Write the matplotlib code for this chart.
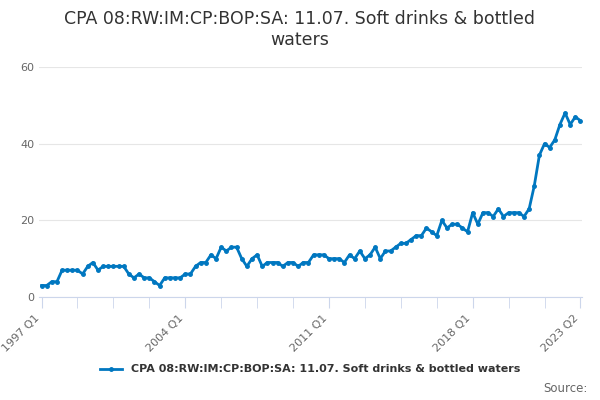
import matplotlib
matplotlib.use("Agg")
import matplotlib.pyplot as plt

values = [3,3,4,4, 7,7,7,7, 6,8,9,7, 8,8,8,8, 8,6,5,6, 5,5,4,3, 5,5,5,5,
          6,6,8,9, 9,11,10,13, 12,13,13,10, 8,10,11,8, 9,9,9,8, 9,9,8,9,
          9,11,11,11, 10,10,10,9, 11,10,12,10, 11,13,10,12, 12,13,14,14,
          15,16,16,18, 17,16,20,18, 19,19,18,17,
          22,19,22,22,21,23,21,22,22,22, 21,23,29,37,40,39,41,45,48,45,47,46]
labels = [f"{1997 + i//4} Q{i%4+1}" for i in range(len(values))]
label_pos = [0, 28, 56, 84, len(values)-1]

fig, ax = plt.subplots(figsize=(6, 4), dpi=100)
fig.subplots_adjust(left=0.065, right=0.97, top=0.8325, bottom=0.2575)
x = list(range(len(values)))
ax.plot(x, values, color="#0077c0", lw=2, marker="o", ms=2.5,
        label="CPA 08:RW:IM:CP:BOP:SA: 11.07. Soft drinks & bottled waters")
ax.set_ylim(0, 60)
ax.set_yticks([0, 20, 40, 60])
ax.set_xlim(-0.5, len(values)-0.7)
ax.grid(axis="y", color="#e6e6e6")
ax.set_axisbelow(True)
for s in ["top", "right", "left"]:
    ax.spines[s].set_visible(False)
ax.spines["bottom"].set_color("#ccd6eb")
ax.tick_params(axis="y", length=0, labelsize=8, colors="#666666")
ax.set_xticks(list(range(0, len(values), 7)) + [len(values)-1], minor=True)
ax.set_xticks(label_pos)
ax.set_xticklabels([labels[i] for i in label_pos], rotation=45, ha="right",
                   fontsize=8, color="#666666")
ax.tick_params(axis="x", which="both", length=8, color="#ccd6eb")
for lbl in ax.get_yticklabels():
    lbl.set_clip_on(False)
fig.suptitle("CPA 08:RW:IM:CP:BOP:SA: 11.07. Soft drinks & bottled\nwaters",
             fontsize=12.5, color="#333333", y=0.975)
ax.legend(loc="upper center", bbox_to_anchor=(0.5, -0.25), frameon=False,
          prop={"size": 8, "weight": "bold"}, labelcolor="#333333")
fig.text(0.98, 0.02, "Source:", ha="right", fontsize=8.5, color="#666666")
fig.savefig("out.png")
